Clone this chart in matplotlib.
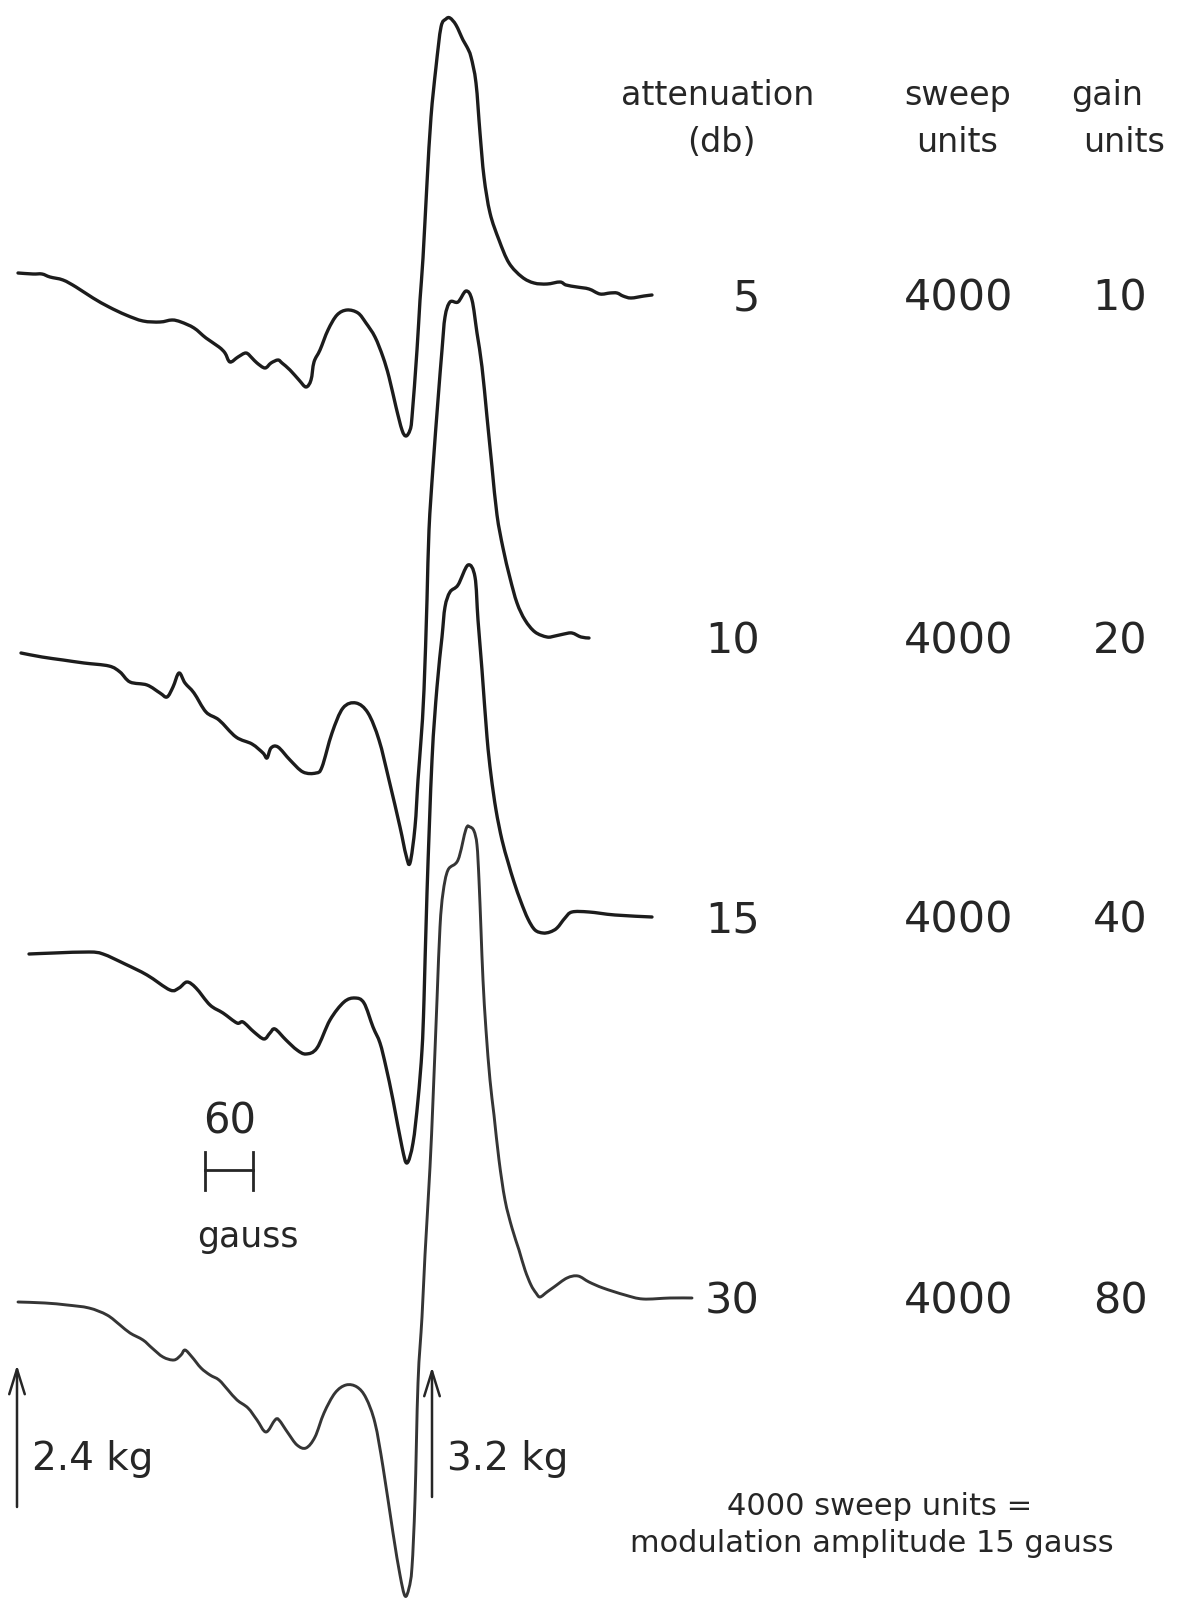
import matplotlib
matplotlib.use("Agg")
import matplotlib.pyplot as plt
from matplotlib.path import Path
from matplotlib.patches import PathPatch
import numpy as np

# ---------------- data ----------------
# table on the right
attenuation_db = ["5", "10", "15", "30"]
sweep_units = ["4000", "4000", "4000", "4000"]
gain_units = ["10", "20", "40", "80"]

# derivative ESR traces: field position (chart units) and pen deflection (chart units, up = +)
field_5db = [18, 33, 42, 50, 63, 76, 93, 109, 126, 143, 160, 172, 181, 194, 206, 219, 225, 230,
             238, 246, 252, 257, 265, 271, 278, 282, 290, 299, 306, 311, 314, 320, 328, 337, 347,
             358, 366, 375, 383, 389, 396, 402, 406, 410, 412, 417, 420, 423, 427, 431, 436, 441,
             446, 450, 456, 463, 467, 471, 476, 480, 484, 490, 499, 509, 522, 534, 547, 560, 566,
             577, 589, 600, 610, 617, 623, 631, 644, 652]
signal_5db = [0, -1, -1, -4, -7, -14, -25, -34, -42, -48, -49, -47, -49, -55, -65, -74, -80, -89,
              -84, -80, -85, -90, -95, -90, -87, -90, -97, -107, -114, -107, -89, -77, -57, -42, -37,
              -40, -50, -64, -84, -104, -134, -157, -163, -157, -144, -77, -27, 15, 90, 156, 206, 246,
              254, 255, 248, 233, 226, 216, 190, 140, 96, 60, 33, 10, -4, -10, -11, -9, -12,
              -14, -16, -21, -20, -20, -23, -25, -23, -22]

field_10db = [21, 42, 63, 84, 109, 120, 130, 147, 160, 167, 173, 179, 185, 194, 206, 219, 236, 252,
              263, 267, 271, 278, 290, 303, 316, 322, 332, 343, 356, 368, 379, 389, 400, 406, 410,
              415, 418, 421, 424, 427, 429, 433, 438, 442, 445, 450, 458, 466, 472, 477, 482, 487,
              492, 497, 503, 510, 517, 525, 535, 547, 555, 564, 572, 581, 589]
signal_10db = [0, -4, -7, -10, -13, -19, -29, -32, -40, -44, -34, -20, -30, -40, -59, -67, -84, -91,
               -100, -105, -95, -94, -107, -119, -120, -114, -80, -55, -50, -60, -87, -127, -174, -202, -210,
               -174, -127, -87, -37, 53, 123, 186, 253, 303, 336, 351, 351, 362, 353, 320, 286, 236,
               186, 138, 105, 75, 50, 33, 21, 16, 17, 19, 20, 16, 15]

field_15db = [29, 54, 89, 103, 125, 147, 170, 179, 187, 196, 210, 223, 237, 243, 254, 264, 270, 275,
              286, 297, 306, 317, 330, 344, 355, 364, 373, 380, 386, 393, 402, 407, 413, 418, 422,
              424, 427, 432, 437, 442, 445, 450, 458, 468, 475, 478, 482, 487, 491, 496, 502, 508,
              514, 521, 528, 535, 543, 550, 557, 565, 572, 589, 615, 652]
signal_15db = [0, 1, 2, 0, -10, -21, -36, -34, -28, -34, -51, -59, -69, -68, -78, -85, -79, -75,
               -86, -96, -100, -94, -66, -48, -44, -49, -73, -89, -113, -146, -193, -209, -189, -146, -96,
               -46, 61, 194, 267, 317, 347, 362, 369, 389, 377, 334, 284, 217, 179, 144, 114, 92,
               72, 52, 35, 24, 21, 22, 26, 36, 42, 42, 39, 37]

field_30db = [18, 45, 67, 89, 107, 120, 130, 143, 152, 163, 174, 181, 185, 192, 201, 210, 219, 228,
              237, 248, 257, 266, 275, 279, 288, 297, 306, 315, 324, 335, 346, 357, 366, 375, 383,
              393, 400, 405, 409, 412, 415, 418, 422, 425, 430, 433, 437, 440, 443, 448, 458, 466,
              470, 474, 477, 479, 481, 483, 486, 490, 494, 499, 505, 512, 519, 525, 531, 536, 540, 547,
              554, 567, 578, 589, 603, 625, 643, 670, 692]
signal_30db = [0, -1, -3, -6, -13, -23, -31, -38, -46, -55, -58, -53, -48, -55, -66, -73, -78, -88,
               -98, -106, -118, -130, -118, -118, -131, -143, -146, -135, -111, -91, -83, -85, -96, -121, -165,
               -231, -273, -294, -286, -265, -198, -81, -15, 47, 135, 202, 302, 375, 409, 432, 442, 473,
               475, 471, 457, 422, 372, 322, 272, 222, 187, 142, 102, 74, 52, 32, 17, 9, 5, 10,
               15, 24, 26, 20, 14, 7, 3, 4, 4]

fields = [field_5db, field_10db, field_15db, field_30db]
signals = [signal_5db, signal_10db, signal_15db, signal_30db]

# ---------------- layout / style ----------------
W, H = 1178, 1598
trace_baseline = [1325, 945, 644, 296]          # vertical position of each trace's left end
trace_color = ["#1c1c1c", "#1c1c1c", "#1c1c1c", "#353535"]
trace_lw = [2.4, 2.4, 2.4, 2.1]
ink = "#262626"
font = "DejaVu Sans"

fig = plt.figure(figsize=(W / 100, H / 100), dpi=100)
fig.patch.set_facecolor("white")
ax = fig.add_axes([0, 0, 1, 1])
ax.set_xlim(0, W)
ax.set_ylim(0, H)
ax.axis("off")


def smooth_path(xs, ys):
    """Pen-like rendering: a Catmull-Rom curve drawn through the read points (as Bezier segments)."""
    p = np.column_stack([xs, ys]).astype(float)
    ext = np.vstack([p[0], p, p[-1]])
    verts = [p[0]]
    codes = [Path.MOVETO]
    for i in range(1, len(ext) - 2):
        p0, p1, p2, p3 = ext[i - 1], ext[i], ext[i + 1], ext[i + 2]
        c1 = p1 + (p2 - p0) / 6.0
        c2 = p2 - (p3 - p1) / 6.0
        verts += [c1, c2, p2]
        codes += [Path.CURVE4] * 3
    return Path(verts, codes)


for f, s, b, c, lw in zip(fields, signals, trace_baseline, trace_color, trace_lw):
    y = b + np.asarray(s, dtype=float)
    ax.add_patch(PathPatch(smooth_path(f, y), fill=False, edgecolor=c, lw=lw,
                           joinstyle="round", capstyle="round", transform=ax.transData))

def px(pt):
    return pt * 100 / 72.0

# column headers
num_fs = 31
hdr_fs = 24
ax.text(718, 1493, "attenuation", ha="center", va="baseline", fontsize=hdr_fs, color=ink, family=font)
ax.text(721, 1446, "(db)", ha="center", va="baseline", fontsize=hdr_fs, color=ink, family=font)
ax.text(958, 1493, "sweep", ha="center", va="baseline", fontsize=hdr_fs, color=ink, family=font)
ax.text(957, 1446, "units", ha="center", va="baseline", fontsize=hdr_fs, color=ink, family=font)
ax.text(1107, 1493, "gain", ha="center", va="baseline", fontsize=hdr_fs, color=ink, family=font)
ax.text(1124, 1446, "units", ha="center", va="baseline", fontsize=hdr_fs, color=ink, family=font)

# table rows aligned with the right end of each trace
half_digit = 0.729 * px(num_fs) / 2
for f, s, b, att, sw, g in zip(fields, signals, trace_baseline, attenuation_db, sweep_units, gain_units):
    y = b + s[-1] - half_digit
    ax.text(760, y, att, ha="right", va="baseline", fontsize=num_fs, color=ink, family=font)
    ax.text(959, y, sw, ha="center", va="baseline", fontsize=num_fs, color=ink, family=font)
    ax.text(1120, y, g, ha="center", va="baseline", fontsize=num_fs, color=ink, family=font)

# 60 gauss scale bar
bar_x = [205, 253]
bar_y = 428
ax.plot(bar_x, [bar_y, bar_y], color=ink, lw=2.0)
for xb in bar_x:
    ax.plot([xb, xb], [bar_y - 20, bar_y + 18], color=ink, lw=2.0)
ax.text(230, 465, "60", ha="center", va="baseline", fontsize=30, color=ink, family=font)
ax.text(248, 351, "gauss", ha="center", va="baseline", fontsize=25, color=ink, family=font)

# field markers
for x0, y0, y1, lab in [(17, 91, 233, "2.4 kg"), (432, 101, 231, "3.2 kg")]:
    ax.annotate("", xy=(x0, y1), xytext=(x0, y0),
                arrowprops=dict(arrowstyle="->,head_length=0.9,head_width=0.28",
                                color=ink, lw=1.8, mutation_scale=20, shrinkA=0, shrinkB=0))
    ax.text(x0 + 15, 128, lab, ha="left", va="baseline", fontsize=28, color=ink, family=font)

# footnote
ax.text(880, 83, "4000 sweep units =", ha="center", va="baseline", fontsize=22, color=ink, family=font)
ax.text(872, 46, "modulation amplitude 15 gauss", ha="center", va="baseline", fontsize=22,
        color=ink, family=font)

fig.savefig("out.png", dpi=100, facecolor="white")
